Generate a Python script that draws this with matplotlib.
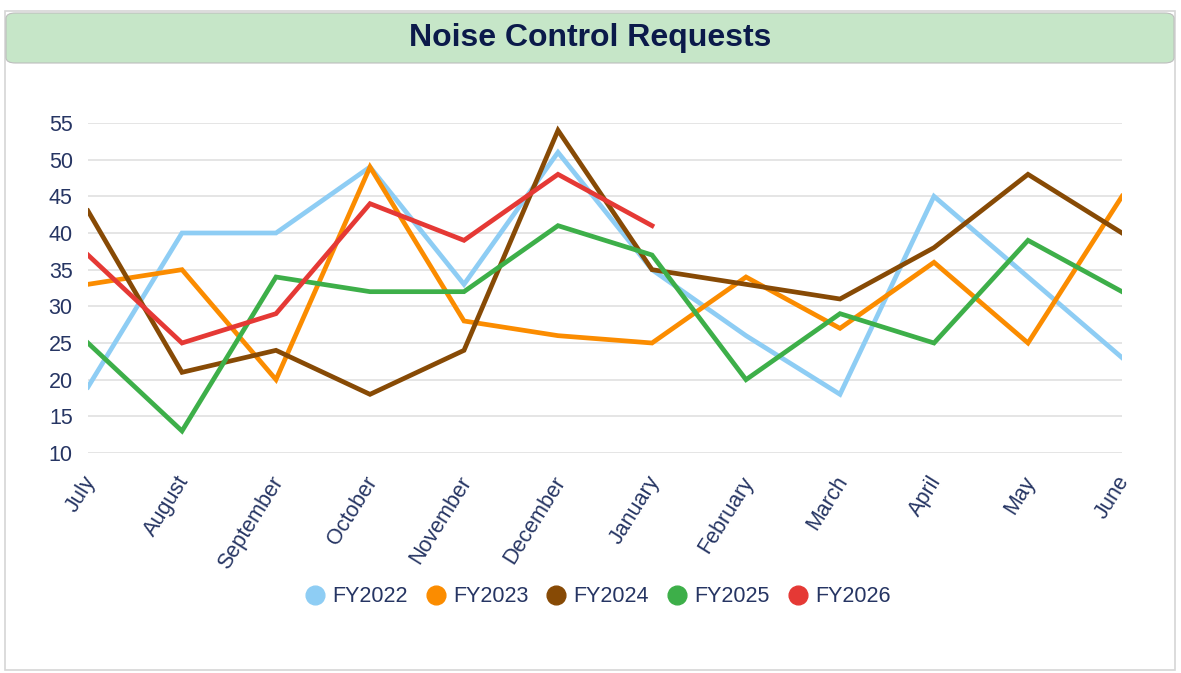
import matplotlib.pyplot as plt
from matplotlib.patches import FancyBboxPatch, Rectangle
from matplotlib.lines import Line2D
from matplotlib.transforms import ScaledTranslation

plt.rcParams['font.family'] = ['Liberation Sans', 'DejaVu Sans']

# %% DATA

months = ["July", "August", "September", "October", "November", "December",
          "January", "February", "March", "April", "May", "June"]

fy2022 = [19, 40, 40, 49, 33, 51, 35, 26, 18, 45, 34, 23]
fy2023 = [33, 35, 20, 49, 28, 26, 25, 34, 27, 36, 25, 45]
fy2024 = [43, 21, 24, 18, 24, 54, 35, 33, 31, 38, 48, 40]
fy2025 = [25, 13, 34, 32, 32, 41, 37, 20, 29, 25, 39, 32]
fy2026 = [37, 25, 29, 44, 39, 48, 41]

series = [("FY2022", fy2022, "#8ecdf4"),
          ("FY2023", fy2023, "#fb8c00"),
          ("FY2024", fy2024, "#874a05"),
          ("FY2025", fy2025, "#3daf49"),
          ("FY2026", fy2026, "#e53935")]

yticks = [10, 15, 20, 25, 30, 35, 40, 45, 50, 55]
navy = "#263563"

# %% FIGURE AND CARD

fig = plt.figure(figsize=(11.81, 6.73), dpi=100)

# card outline and green title band (kept behind the axes)
fig.patches.append(Rectangle((5 / 1181, 0.004), 1170 / 1181, 0.98,
                             transform=fig.transFigure, facecolor="white",
                             edgecolor="#d6d6d6", linewidth=1.2, zorder=-2))
fig.patches.append(FancyBboxPatch((6 / 1181, 1 - 63 / 673), 1168 / 1181, 50 / 673,
                                  boxstyle="round,pad=0,rounding_size=0.008",
                                  transform=fig.transFigure, facecolor="#c6e6c8",
                                  edgecolor="#bdbdbd", linewidth=0.8, zorder=-1))
fig.text(0.5, 1 - 38 / 673, "Noise Control Requests", ha="center", va="center",
         fontsize=23, fontweight="bold", color="#0b1a4a")

# %% PLOT

ax = fig.add_axes([88 / 1181, 1 - 453 / 673, (1122 - 88) / 1181, (453 - 123) / 673])
ax.patch.set_visible(False)

for name, vals, col in series:
    ax.plot(range(len(vals)), vals, color=col, linewidth=3.4, label=name,
            solid_joinstyle="miter", zorder=3)

ax.set_xlim(0, len(months) - 1)
ax.set_ylim(10, 55)
ax.set_yticks(yticks)
ax.set_xticks(range(len(months)))
ax.set_xticklabels(months, rotation=58, ha="right", rotation_mode="anchor")
ax.tick_params(axis="both", length=0, labelsize=15.5, labelcolor=navy)
ax.tick_params(axis="y", pad=11)
ax.tick_params(axis="x", pad=14)
ax.grid(axis="y", color="#e3e3e3", linewidth=1.3)
ax.set_axisbelow(True)
for s in ax.spines.values():
    s.set_visible(False)

# nudge month labels a little to the left
shift = ScaledTranslation(-6 / 100, 0, fig.dpi_scale_trans)
for lbl in ax.get_xticklabels():
    lbl.set_transform(lbl.get_transform() + shift)

handles = [Line2D([], [], marker="o", linestyle="", markersize=13.5,
                  markerfacecolor=c, markeredgecolor=c) for _, _, c in series]
fig.legend(handles, [n for n, _, _ in series], loc="center",
           bbox_to_anchor=(592 / 1181, 1 - 597 / 673), ncol=5, frameon=False,
           fontsize=15.5, labelcolor=navy, handletextpad=-0.2, columnspacing=0.3)

fig.savefig("out.png", dpi=100)
